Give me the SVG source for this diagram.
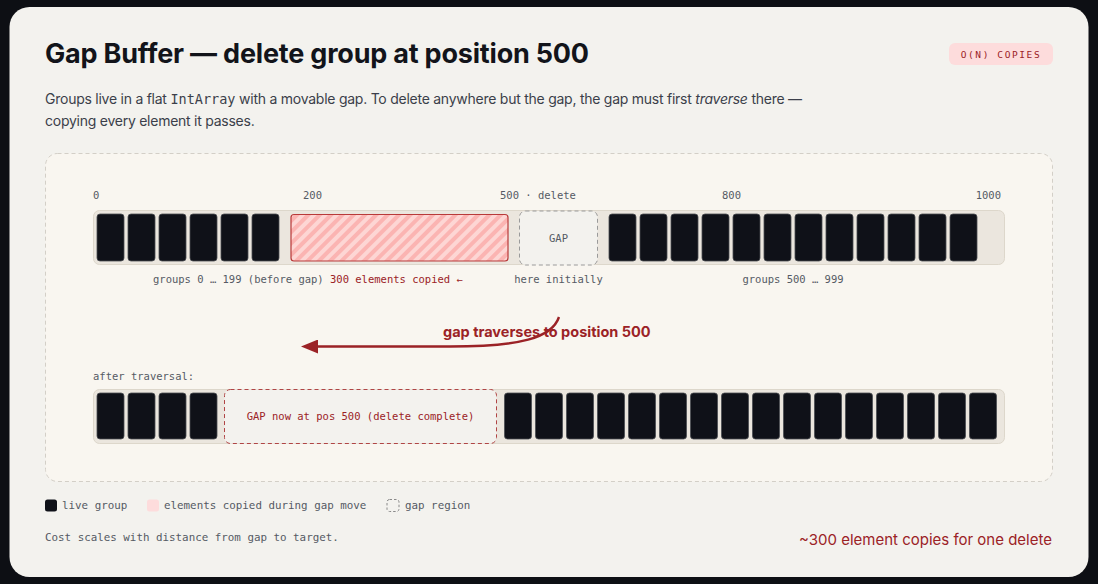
<svg xmlns="http://www.w3.org/2000/svg" width="1098" height="584" viewBox="0 0 1098 584">
<defs>
<style>
.mono{font-family:"DejaVu Sans Mono","Liberation Mono",monospace;font-size:10.5px;fill:#555a64}
.sans{font-family:Inter,"Noto Sans","Liberation Sans",sans-serif}
.blk{fill:#0f1118;stroke:#4a4c52;stroke-width:0.8}
.bar{fill:#ebe6de;stroke:#ddd7cb;stroke-width:1}
.red{fill:#9b2226}
.leg{font-size:10.85px}
</style>
<pattern id="hatch" width="8" height="8" patternUnits="userSpaceOnUse" patternTransform="rotate(45)">
<rect width="8" height="8" fill="#fdd6d4"/>
<rect width="4" height="8" fill="#fbb4b2"/>
</pattern>
<marker id="ah" viewBox="0 0 17 14" refX="3" refY="7" markerWidth="17" markerHeight="14" orient="auto" markerUnits="userSpaceOnUse">
<path d="M0,0 L17,7 L0,14 z" fill="#9b2226"/>
</marker>
</defs>
<rect width="1098" height="584" fill="#0d0f14"/>
<rect x="9.5" y="7" width="1079" height="570" rx="20" fill="#f3f2ee"/>

<g id="header">
<text x="45" y="63" class="sans" font-size="27" font-weight="700" letter-spacing="-0.2" fill="#12141a">Gap Buffer — delete group at position 500</text>
<text x="45" y="104" class="sans" font-size="14" letter-spacing="-0.25" fill="#3b3f4a">Groups live in a flat <tspan font-family="'DejaVu Sans Mono','Liberation Mono',monospace" font-size="13.5" letter-spacing="0">IntArray</tspan> with a movable gap. To delete anywhere but the gap, the gap must first <tspan font-style="italic">traverse</tspan> there —</text>
<text x="45" y="126" class="sans" font-size="14" letter-spacing="-0.25" fill="#3b3f4a">copying every element it passes.</text>
</g>

<g id="badge">
<rect x="949" y="43" width="104" height="22" rx="6" fill="#fddcdc"/>
<text x="1001" y="58" text-anchor="middle" font-family="'DejaVu Sans Mono','Liberation Mono',monospace" font-size="9.5" letter-spacing="1.6" fill="#9b2226">O(N) COPIES</text>
</g>

<rect x="45.5" y="153.5" width="1007" height="328" rx="12" fill="#f9f6f0" stroke="#d3cfc7" stroke-dasharray="4 3"/>

<g id="scale">
<text x="93" y="199" class="mono">0</text>
<text x="303" y="199" class="mono">200</text>
<text x="500" y="199" class="mono">500 · delete</text>
<text x="722" y="199" class="mono">800</text>
<text x="1001" y="199" class="mono" text-anchor="end">1000</text>
</g>

<g id="top-bar">
<rect x="93.5" y="210.5" width="911" height="54" rx="6" class="bar"/>
<rect x="97" y="214" width="27" height="47" rx="3" class="blk"/>
<rect x="128" y="214" width="27" height="47" rx="3" class="blk"/>
<rect x="159" y="214" width="27" height="47" rx="3" class="blk"/>
<rect x="190" y="214" width="27" height="47" rx="3" class="blk"/>
<rect x="221" y="214" width="27" height="47" rx="3" class="blk"/>
<rect x="252" y="214" width="27" height="47" rx="3" class="blk"/>
<rect x="609" y="214" width="27" height="47" rx="3" class="blk"/>
<rect x="640" y="214" width="27" height="47" rx="3" class="blk"/>
<rect x="671" y="214" width="27" height="47" rx="3" class="blk"/>
<rect x="702" y="214" width="27" height="47" rx="3" class="blk"/>
<rect x="733" y="214" width="27" height="47" rx="3" class="blk"/>
<rect x="764" y="214" width="27" height="47" rx="3" class="blk"/>
<rect x="795" y="214" width="27" height="47" rx="3" class="blk"/>
<rect x="826" y="214" width="27" height="47" rx="3" class="blk"/>
<rect x="857" y="214" width="27" height="47" rx="3" class="blk"/>
<rect x="888" y="214" width="27" height="47" rx="3" class="blk"/>
<rect x="919" y="214" width="27" height="47" rx="3" class="blk"/>
<rect x="950" y="214" width="27" height="47" rx="3" class="blk"/>
</g>

<g id="copied-region">
<rect x="291" y="214.5" width="217" height="46.5" rx="3" fill="url(#hatch)" stroke="#b83a3a" stroke-width="1.2"/>
</g>

<g id="gap-initial">
<rect x="519.5" y="211" width="78" height="54" rx="6" fill="#f3f2ee" stroke="#9a9a9a" stroke-dasharray="4 3"/>
<text x="558.5" y="242" text-anchor="middle" class="mono">GAP</text>
</g>

<g id="top-labels">
<text x="153" y="283" class="mono">groups 0 … 199 (before gap) <tspan class="red">300 elements copied ←</tspan></text>
<text x="558.5" y="283" class="mono" text-anchor="middle">here initially</text>
<text x="793" y="283" class="mono" text-anchor="middle">groups 500 … 999</text>
</g>

<g id="connectors">
<path d="M559 317 C552 338 520 346.5 450 346.5 L315 346.5" fill="none" stroke="#9b2226" stroke-width="2.4" marker-end="url(#ah)"/>
<text x="443" y="337" class="sans red" font-size="14.5" font-weight="700">gap traverses to position 500</text>
</g>

<text x="93" y="380" class="mono">after traversal:</text>

<g id="bottom-bar">
<rect x="93.5" y="389.5" width="911" height="54" rx="6" class="bar"/>
<rect x="97" y="393" width="27" height="46" rx="3" class="blk"/>
<rect x="128" y="393" width="27" height="46" rx="3" class="blk"/>
<rect x="159" y="393" width="27" height="46" rx="3" class="blk"/>
<rect x="190" y="393" width="27" height="46" rx="3" class="blk"/>
<rect x="504.5" y="393" width="27" height="46" rx="3" class="blk"/>
<rect x="535.5" y="393" width="27" height="46" rx="3" class="blk"/>
<rect x="566.5" y="393" width="27" height="46" rx="3" class="blk"/>
<rect x="597.5" y="393" width="27" height="46" rx="3" class="blk"/>
<rect x="628.5" y="393" width="27" height="46" rx="3" class="blk"/>
<rect x="659.5" y="393" width="27" height="46" rx="3" class="blk"/>
<rect x="690.5" y="393" width="27" height="46" rx="3" class="blk"/>
<rect x="721.5" y="393" width="27" height="46" rx="3" class="blk"/>
<rect x="752.5" y="393" width="27" height="46" rx="3" class="blk"/>
<rect x="783.5" y="393" width="27" height="46" rx="3" class="blk"/>
<rect x="814.5" y="393" width="27" height="46" rx="3" class="blk"/>
<rect x="845.5" y="393" width="27" height="46" rx="3" class="blk"/>
<rect x="876.5" y="393" width="27" height="46" rx="3" class="blk"/>
<rect x="907.5" y="393" width="27" height="46" rx="3" class="blk"/>
<rect x="938.5" y="393" width="27" height="46" rx="3" class="blk"/>
<rect x="969.5" y="393" width="27" height="46" rx="3" class="blk"/>
</g>

<g id="gap-final">
<rect x="224.5" y="389.5" width="272" height="54" rx="6" fill="#f3f2ee" stroke="#b04545" stroke-dasharray="4 3"/>
<text x="360.5" y="420" text-anchor="middle" class="mono red">GAP now at pos 500 (delete complete)</text>
</g>

<g id="legend">
<rect x="45" y="499.5" width="12" height="12" rx="2.5" fill="#0f1118"/>
<text x="62" y="509" class="mono leg">live group</text>
<rect x="147" y="499.5" width="12" height="12" rx="2.5" fill="#fddcdc"/>
<text x="164" y="509" class="mono leg">elements copied during gap move</text>
<rect x="387" y="499.5" width="12" height="12" rx="2.5" fill="none" stroke="#8a8a8a" stroke-dasharray="2.5 2"/>
<text x="405" y="509" class="mono leg">gap region</text>
</g>

<g id="footer">
<text x="45" y="541" class="mono leg">Cost scales with distance from gap to target.</text>
<text x="1052" y="545" text-anchor="end" class="sans red" font-size="15">~300 element copies for one delete</text>
</g>
</svg>
